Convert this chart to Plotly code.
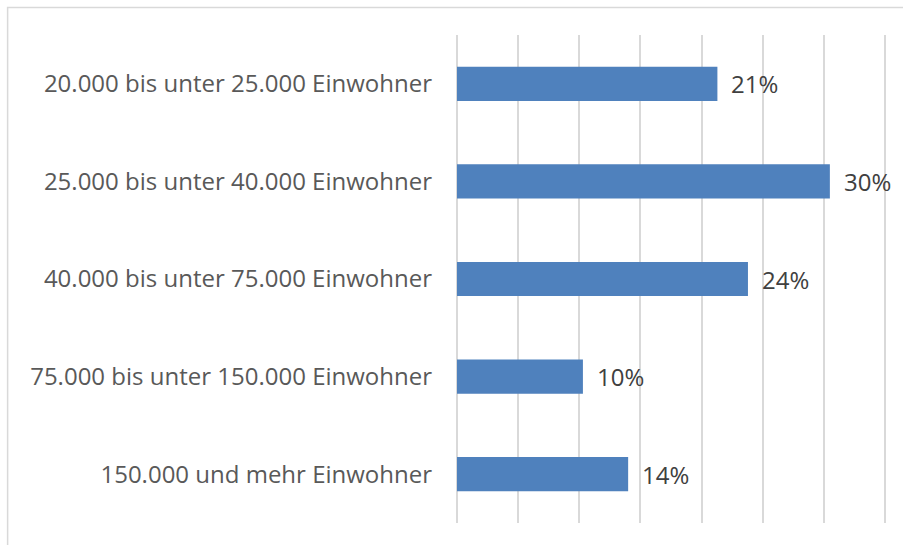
import plotly.graph_objects as go

categories = [
    "20.000 bis unter 25.000 Einwohner",
    "25.000 bis unter 40.000 Einwohner",
    "40.000 bis unter 75.000 Einwohner",
    "75.000 bis unter 150.000 Einwohner",
    "150.000 und mehr Einwohner",
]
values = [21.3, 30.5, 23.8, 10.3, 14.0]
labels = ["21%", "30%", "24%", "10%", "14%"]

FONT = "Open Sans"
XMAX = 35.5
PX_PER = 428 / 35
plot_w = PX_PER * XMAX
L, T = 457, 35
R = 903 - L - plot_w
B = 22

fig = go.Figure()
fig.add_trace(go.Bar(
    y=categories, x=values, orientation="h",
    marker=dict(color="#4F81BD", line=dict(width=0)),
    hoverinfo="skip",
))
for c, v, t in zip(categories, values, labels):
    fig.add_annotation(x=v, y=c, text=t, showarrow=False, xanchor="left",
                       xshift=12, font=dict(family=FONT, size=24, color="#404040"))

fig.update_layout(
    width=903, height=545,
    margin=dict(l=L, r=R, t=T, b=B),
    paper_bgcolor="white", plot_bgcolor="white",
    bargap=0.65, showlegend=False,
    xaxis=dict(range=[0, XMAX], tickvals=[0, 5, 10, 15, 20, 25, 30, 35], showgrid=True,
               gridcolor="#D9D9D9", gridwidth=2,
               showticklabels=False, zeroline=True, zerolinecolor="#D9D9D9", zerolinewidth=2,
               showline=False, fixedrange=True),
    yaxis=dict(autorange="reversed", showgrid=False, zeroline=False, showline=False,
               ticks="", ticklabelstandoff=24, fixedrange=True,
               tickfont=dict(family=FONT, size=24, color="#595959")),
    shapes=[dict(type="rect", xref="paper", yref="paper",
                 x0=(7.5 - L) / plot_w, x1=(912 - L) / plot_w,
                 y0=(523 - 552) / 488, y1=(523 - 7.5) / 488,
                 line=dict(color="#D9D9D9", width=1.5), fillcolor="rgba(0,0,0,0)", layer="below")],
)
fig.write_html("out.html", config={"displayModeBar": False},
               post_script="document.body.style.margin='0';")
